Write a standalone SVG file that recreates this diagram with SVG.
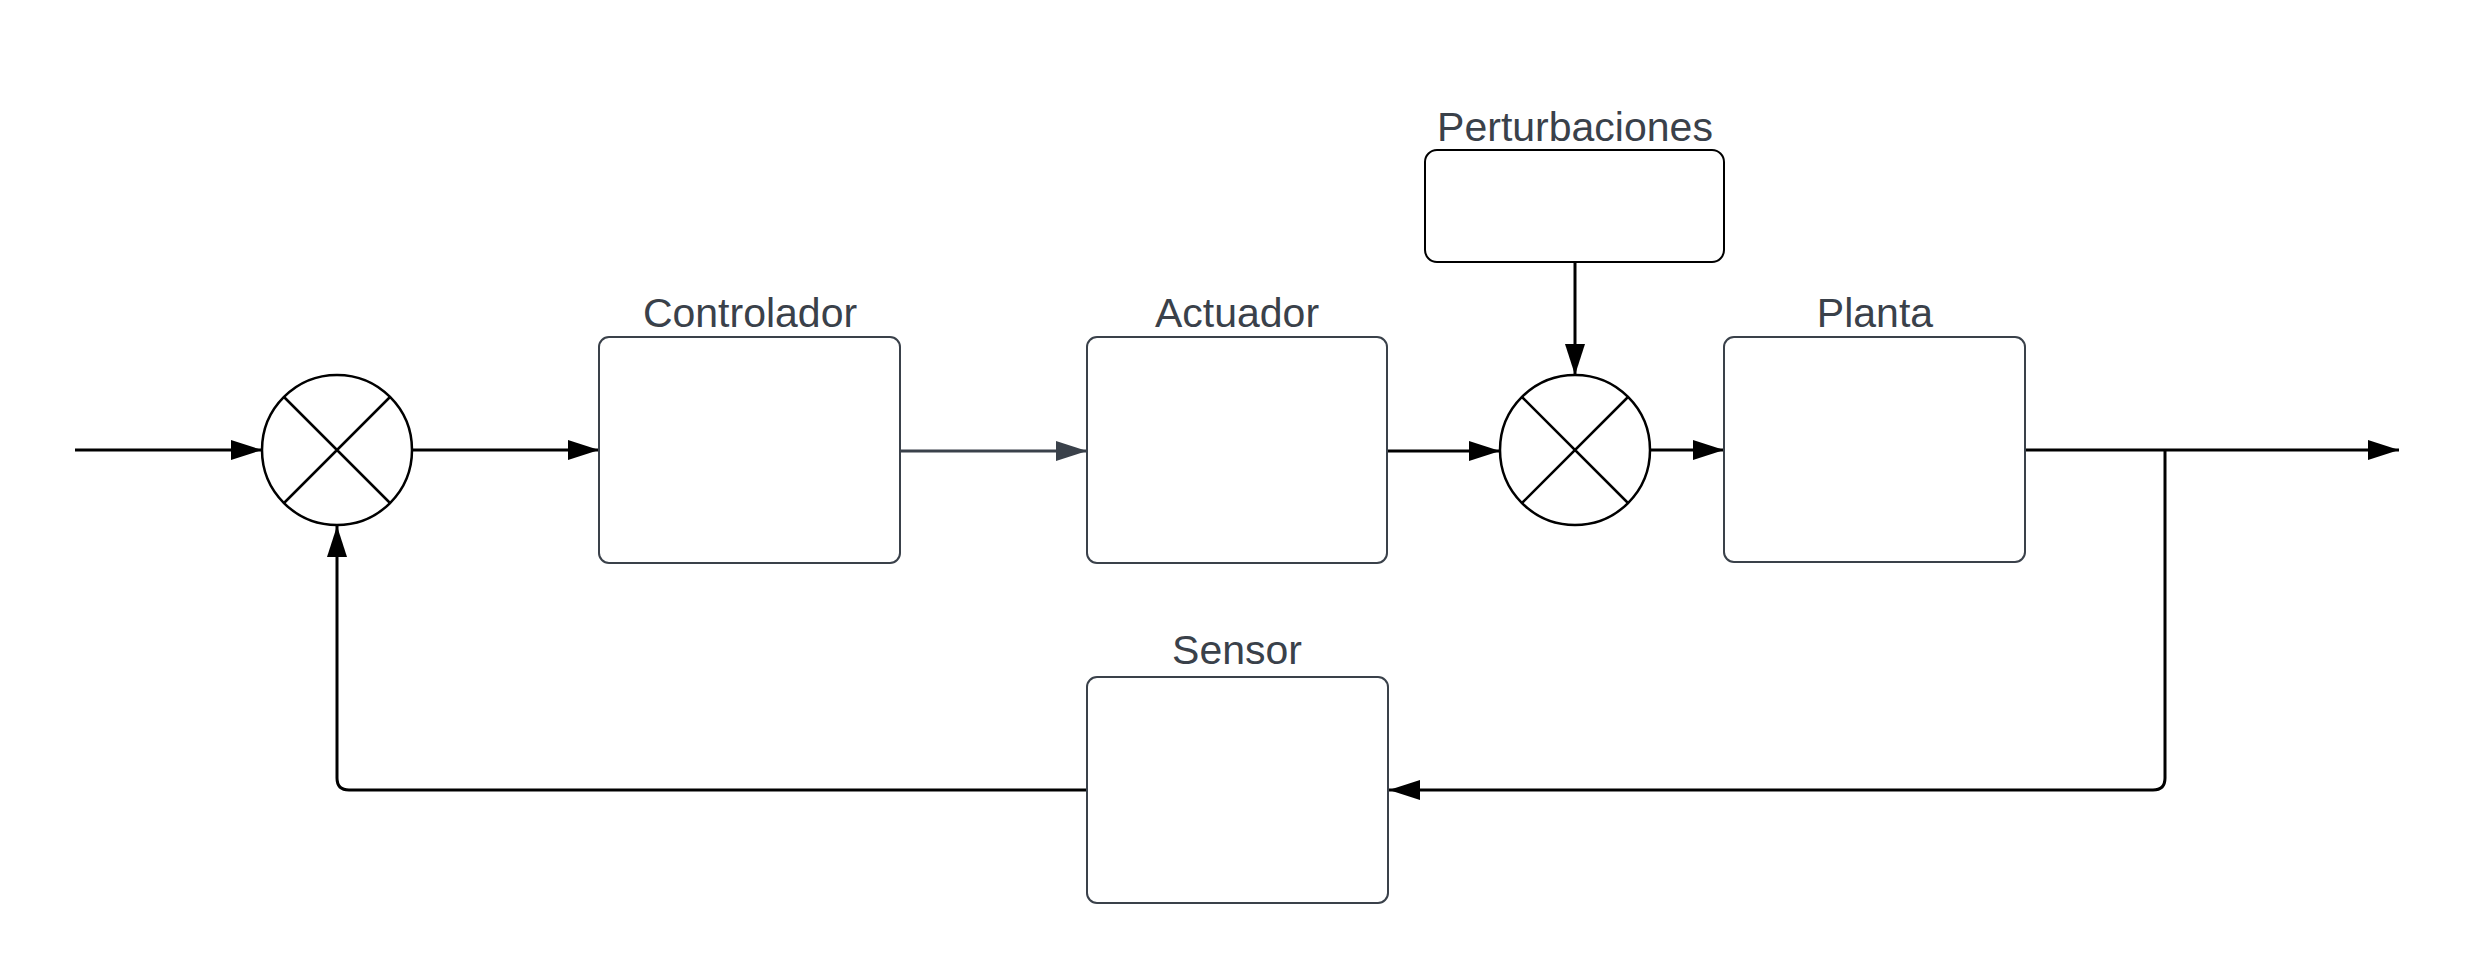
<svg xmlns="http://www.w3.org/2000/svg" width="2471" height="977" viewBox="0 0 2471 977">
  <style>
    .box { fill: #ffffff; stroke: #3a414a; stroke-width: 2; }
    .boxd { fill: #ffffff; stroke: #000000; stroke-width: 2; }
    .sum { fill: #ffffff; stroke: #000000; stroke-width: 2.5; }
    .cross { stroke: #000000; stroke-width: 2.5; fill: none; }
    .lbl { font-family: "Liberation Sans", Arial, sans-serif; font-size: 41px; fill: #3a414a; text-anchor: middle; }
    .wire { fill: none; stroke: #000000; stroke-width: 3; }
    .wireg { fill: none; stroke: #3a414a; stroke-width: 3; }
  </style>
  <defs>
    <marker id="ah" markerUnits="userSpaceOnUse" markerWidth="32" markerHeight="22" refX="31" refY="10" orient="auto">
      <path d="M0,0 L31,10 L0,20 Z" fill="#000000"/>
    </marker>
    <marker id="ahg" markerUnits="userSpaceOnUse" markerWidth="32" markerHeight="22" refX="31" refY="10" orient="auto">
      <path d="M0,0 L31,10 L0,20 Z" fill="#3a414a"/>
    </marker>
  </defs>
  <rect width="2471" height="977" fill="#ffffff"/>

  <g id="connectors">
    <path class="wire" d="M75,450 H262" marker-end="url(#ah)"/>
    <path class="wire" d="M413,450 H599" marker-end="url(#ah)"/>
    <path class="wireg" d="M900,451 H1087" marker-end="url(#ahg)"/>
    <path class="wire" d="M1387,451 H1500" marker-end="url(#ah)"/>
    <path class="wire" d="M1575,262 V375" marker-end="url(#ah)"/>
    <path class="wire" d="M1650,450 H1724" marker-end="url(#ah)"/>
    <path class="wire" d="M2025,450 H2399" marker-end="url(#ah)"/>
    <path class="wire" d="M2165,450 V778 Q2165,790 2153,790 H1389" marker-end="url(#ah)"/>
    <path class="wire" d="M1087,790 H349 Q337,790 337,778 V526" marker-end="url(#ah)"/>
  </g>

  <g id="sum1">
    <circle class="sum" cx="337" cy="450" r="75"/>
    <path class="cross" d="M284,397 L390,503 M390,397 L284,503"/>
  </g>

  <g id="controlador">
    <rect class="box" x="599" y="337" width="301" height="226" rx="10"/>
    <text class="lbl" x="750" y="327">Controlador</text>
  </g>

  <g id="actuador">
    <rect class="box" x="1087" y="337" width="300" height="226" rx="10"/>
    <text class="lbl" x="1237" y="327">Actuador</text>
  </g>

  <g id="perturbaciones">
    <rect class="boxd" x="1425" y="150" width="299" height="112" rx="12"/>
    <text class="lbl" x="1575" y="141">Perturbaciones</text>
  </g>

  <g id="sum2">
    <circle class="sum" cx="1575" cy="450" r="75"/>
    <path class="cross" d="M1522,397 L1628,503 M1628,397 L1522,503"/>
  </g>

  <g id="planta">
    <rect class="box" x="1724" y="337" width="301" height="225" rx="10"/>
    <text class="lbl" x="1875" y="327">Planta</text>
  </g>

  <g id="sensor">
    <rect class="box" x="1087" y="677" width="301" height="226" rx="10"/>
    <text class="lbl" x="1237" y="664">Sensor</text>
  </g>
</svg>
